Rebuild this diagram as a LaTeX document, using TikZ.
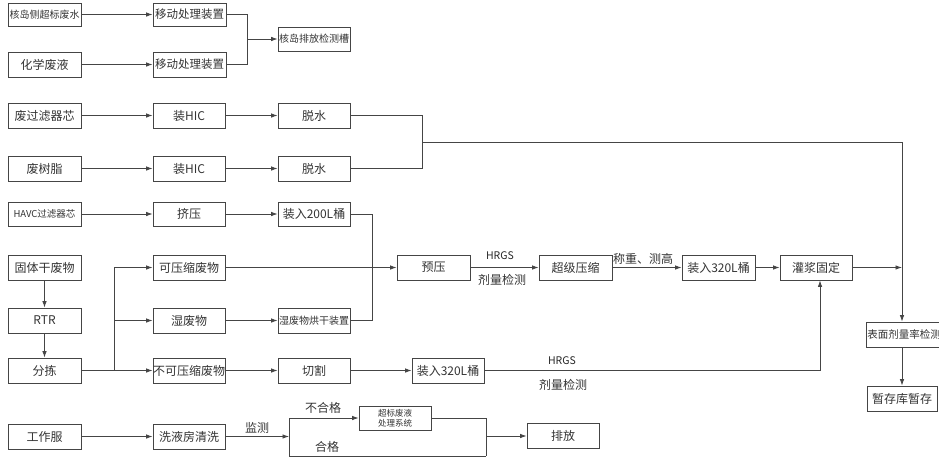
\documentclass[tikz,border=0pt]{standalone}
\usepackage{fontspec}
\setmainfont{Noto Sans CJK SC}
\usetikzlibrary{arrows.meta}
\newcommand\fsz[1]{\fontsize{#1}{#1}\selectfont}
\definecolor{linec}{HTML}{454545}
\definecolor{textc}{HTML}{333333}
\begin{document}
\begin{tikzpicture}[x=1pt,y=-1pt,
  box/.style={draw=linec, line width=0.8pt, minimum width=72pt, minimum height=25pt,
    inner sep=0pt, text=textc, font=\fsz{12}},
  small/.style={font=\fsz{10}},
  ln/.style={draw=linec, line width=0.8pt},
  arr/.style={ln, -{Latex[length=6.5pt,width=4.5pt]}},
  lbl/.style={inner sep=0pt, text=textc, font=\fsz{12}},
  lat/.style={inner sep=0pt, text=black!85, font=\fsz{10.5}}]
\useasboundingbox (0,0) rectangle (939,458);
\clip (0,0) rectangle (939,458);
% column 1
\node[box,small,minimum width=73pt,minimum height=23pt] (a1) at (44.5,14.5) {核岛侧超标废水};
\node[box,minimum width=73pt] (a2) at (44.5,64.5) {化学废液};
\node[box,minimum width=73pt] (a3) at (44.5,115.5) {废过滤器芯};
\node[box,minimum width=73pt] (a4) at (44.5,168.5) {废树脂};
\node[box,minimum width=73pt,minimum height=24pt,font=\fsz{9.5}] (a5) at (44.5,214) {HAVC过滤器芯};
\node[box,minimum width=73pt] (a6) at (44.5,267.5) {固体干废物};
\node[box,minimum width=73pt] (a7) at (44.5,320.5) {RTR};
\node[box,minimum width=73pt] (a8) at (44.5,370.5) {分拣};
\node[box,minimum width=73pt] (a9) at (44.5,436.5) {工作服};
% column 2
\node[box,minimum width=73pt,minimum height=23pt,font=\fsz{11.5}] (b1) at (189.5,14.5) {移动处理装置};
\node[box,minimum width=73pt,font=\fsz{11.5}] (b2) at (189.5,64.5) {移动处理装置};
\node[box] (b3) at (189,115.5) {装HIC};
\node[box] (b4) at (189,168.5) {装HIC};
\node[box,minimum height=24pt] (b5) at (189,214) {挤压};
\node[box] (b6) at (189,267.5) {可压缩废物};
\node[box] (b7) at (189,320.5) {湿废物};
\node[box] (b8) at (189,370.5) {不可压缩废物};
\node[box] (b9) at (189,436.5) {洗液房清洗};
% column 3
\node[box,small,minimum height=24pt] (c1) at (314,39) {核岛排放检测槽};
\node[box] (c3) at (314,115.5) {脱水};
\node[box] (c4) at (314,168.5) {脱水};
\node[box,minimum height=24pt] (c5) at (314,214) {装入200L桶};
\node[box,small] (c7) at (314,320.5) {湿废物烘干装置};
\node[box] (c8) at (314,370.5) {切割};
% further right
\node[box,minimum width=73pt] (d6) at (433.5,267.5) {预压};
\node[box,minimum width=73pt] (e6) at (575.5,267.5) {超级压缩};
\node[box,minimum width=73pt] (f6) at (718.5,267.5) {装入320L桶};
\node[box] (g6) at (816,267.5) {灌浆固定};
\node[box] (d8) at (448,370.5) {装入320L桶};
\node[box,font=\fsz{10.5},minimum width=76pt] (s1) at (904,334.5) {表面剂量率检测};
\node[box,minimum width=70pt] (s2) at (902,398.5) {暂存库暂存};
\node[box,minimum height=24pt,align=center,font=\fontsize{8.5}{10}\selectfont] (h9) at (395,418) {超标废液\\处理系统};
\node[box] (p9) at (563,436) {排放};
% labels
\node[lat] (l1) at (500,256) {HRGS};
\node[lbl] (l2) at (502,280) {剂量检测};
\node[lbl] (l3) at (643,259) {称重、测高};
\node[lat] (l4) at (562,361) {HRGS};
\node[lbl] (l5) at (563,385) {剂量检测};
\node[lbl] (l6) at (257,428) {监测};
\node[lbl] (l7) at (323,408) {不合格};
\node[lbl] (l8) at (327,447) {合格};
% junction coordinates
\coordinate (m1) at (247,39);
\coordinate (m2) at (422,142);
\coordinate (r1) at (902,142);
\coordinate (r2) at (902,267.5);
\coordinate (m3) at (372,267.5);
\coordinate (sp) at (114,370.5);
\coordinate (q) at (820,370.5);
\coordinate (k1) at (289,418);
\coordinate (k2) at (289,456);
\coordinate (k4) at (486,456);
\coordinate (kr) at (486,436);
% connectors: top
\draw[arr] (a1) -- (b1);
\draw[arr] (a2) -- (b2);
\draw[ln] (b1.east) -| (m1);
\draw[ln] (b2.east) -| (m1);
\draw[arr] (m1) -- (c1.west);
\draw[arr] (a3) -- (b3);
\draw[arr] (b3) -- (c3);
\draw[arr] (a4) -- (b4);
\draw[arr] (b4) -- (c4);
\draw[ln] (c3.east) -| (m2);
\draw[ln] (c4.east) -| (m2);
\draw[ln] (m2) -- (r1);
\draw[arr] (r1) -- (r1 |- s1.north);
\draw[arr] (s1.south -| s2) -- (s2.north);
% middle
\draw[arr] (a5) -- (b5);
\draw[arr] (b5) -- (c5);
\draw[ln] (c5.east) -| (m3);
\draw[ln] (c7.east) -| (m3);
\draw[arr] (a6) -- (a7);
\draw[arr] (a7) -- (a8);
\draw[arr] (a8) -- (b8);
\draw[arr] (sp) |- (b6.west);
\draw[arr] (sp) |- (b7.west);
\draw[arr] (b6) -- (d6);
\draw[arr] (b7) -- (c7);
\draw[arr] (b8) -- (c8);
\draw[arr] (c8) -- (d8);
\draw[arr] (d6) -- (e6);
\draw[arr] (e6) -- (f6);
\draw[arr] (f6) -- (g6);
\draw[arr] (g6.east) -- (r2);
\draw[ln] (d8.east) -- (q);
\draw[arr] (q) -- (q |- g6.south);
% bottom
\draw[arr] (a9) -- (b9);
\draw[arr] (b9.east) -- (b9.east -| k1);
\draw[ln] (k1) -- (k2) -- (k4);
\draw[arr] (k1) -- (h9.west);
\draw[ln] (h9.east) -| (k4);
\draw[arr] (kr) -- (p9.west);
\end{tikzpicture}
\end{document}
